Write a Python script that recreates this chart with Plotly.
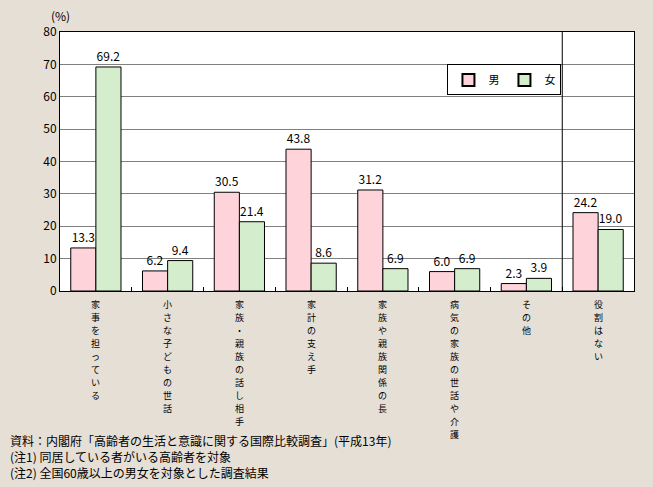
import plotly.graph_objects as go

categories = ["家事を担っている", "小さな子どもの世話", "家族・親族の話し相手", "家計の支え手",
              "家族や親族関係の長", "病気の家族の世話や介護", "その他", "役割はない"]
male = [13.3, 6.2, 30.5, 43.8, 31.2, 6.0, 2.3, 24.2]
female = [69.2, 9.4, 21.4, 8.6, 6.9, 6.9, 3.9, 19.0]
y_ticks = [0, 10, 20, 30, 40, 50, 60, 70, 80]
notes = ["資料：内閣府「高齢者の生活と意識に関する国際比較調査」(平成13年)",
         "(注1) 同居している者がいる高齢者を対象",
         "(注2) 全国60歳以上の男女を対象とした調査結果"]

FONT = "Noto Sans CJK JP"
BG = "#e6dfd6"

fig = go.Figure()
fig.add_trace(go.Bar(name="男", x=categories, y=male, text=[f"{v:.1f}" for v in male],
                     textposition="outside", cliponaxis=False,
                     marker=dict(color="#ffd3da", line=dict(color="black", width=1))))
fig.add_trace(go.Bar(name="女", x=categories, y=female, text=[f"{v:.1f}" for v in female],
                     textposition="outside", cliponaxis=False,
                     marker=dict(color="#d3edcd", line=dict(color="black", width=1))))

fig.update_traces(textfont=dict(family=FONT, size=12, color="black"))

fig.update_layout(
    width=653, height=487,
    margin=dict(l=60, r=19, t=32, b=196),
    paper_bgcolor=BG, plot_bgcolor="white",
    font=dict(family=FONT, size=12, color="black"),
    barmode="group", bargap=0.3, bargroupgap=0,
    showlegend=True,
    legend=dict(orientation="h", x=0.675, y=0.875, xanchor="left", yanchor="top",
                bgcolor="white", bordercolor="black", borderwidth=1,
                font=dict(size=11), itemwidth=30, traceorder="normal",
                tracegroupgap=0, itemsizing="constant"),
)
fig.update_xaxes(
    type="category", tickmode="array", tickvals=categories, showticklabels=False,
    tickson="boundaries", ticks="inside", ticklen=4, tickcolor="black",
    showline=True, linecolor="black", linewidth=1, mirror=True,
    showgrid=False,
)
fig.update_yaxes(
    range=[0, 80], tickvals=y_ticks, ticks="", showline=True, linecolor="black",
    linewidth=1, mirror=True, showgrid=True, gridcolor="#808080", gridwidth=1,
    tickfont=dict(size=12), zeroline=False,
)
fig.add_shape(type="line", xref="x", yref="paper", x0=6.5, x1=6.5, y0=0, y1=1,
              line=dict(color="black", width=1))
fig.add_annotation(text="(%)", xref="paper", yref="paper", x=0.0, y=1.0, yshift=6,
                   xanchor="center", yanchor="bottom", showarrow=False, font=dict(size=12))

# vertical category labels (one character per line, top-down)
STEP = 13
for c in categories:
    for k, ch in enumerate(c):
        fig.add_annotation(text=ch, xref="x", yref="paper", x=c, y=0, yshift=-13 - STEP * k,
                           xanchor="center", yanchor="middle", showarrow=False,
                           font=dict(size=9))

for i, n in enumerate(notes):
    fig.add_annotation(text=n, xref="paper", yref="paper", x=-52 / 574, y=0, yshift=-149 - 16 * i,
                       xanchor="left", yanchor="middle", showarrow=False, font=dict(size=12))

fig.write_html("out.html")
